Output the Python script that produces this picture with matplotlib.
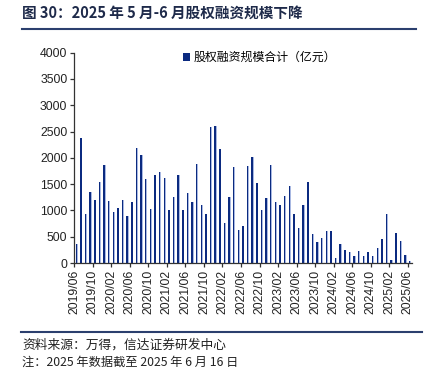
import matplotlib
matplotlib.use("Agg")
import matplotlib.pyplot as plt
import pandas as pd

plt.rcParams['font.family'] = ['Noto Sans CJK SC', 'DejaVu Sans']

months = [d.strftime('%Y/%m') for d in pd.date_range('2019-06-01', '2025-06-01', freq='MS')]
values = [356, 2375, 933, 1346, 1194, 1549, 1873, 1187, 965, 1048,
          1206, 889, 1156, 2184, 2057, 1600, 1022, 1670, 1740, 1613,
          1003, 1257, 1670, 1003, 1327, 1168, 1880, 1111, 927, 2584,
          2597, 2172, 762, 1257, 1835, 635, 699, 1841, 2007, 1524,
          1010, 1232, 1861, 1168, 1111, 1270, 1467, 927, 660, 1105,
          1537, 546, 400, 476, 616, 616, 102, 356, 254, 203,
          133, 229, 127, 203, 133, 279, 451, 927, 51, 572,
          419, 159, 44]
yticks = [0, 500, 1000, 1500, 2000, 2500, 3000, 3500, 4000]
legend_label = '股权融资规模合计（亿元）'
title = '图 30：2025 年 5 月-6 月股权融资规模下降'
source = '资料来源：万得，信达证券研发中心'
note = '注：2025 年数据截至 2025 年 6 月 16 日'

fig = plt.figure(figsize=(4.3, 3.7), dpi=100)
ax = fig.add_axes([74.3/430, 1-263/370, (412.3-74.3)/430, (263-52.7)/370])

x = list(range(len(values)))
dark = '#0B2A80'
light = '#A8B8E2'
ax.bar([i - 0.07 for i in x], values, width=0.32, color=dark, linewidth=0, label=legend_label)
ax.bar([i + 0.17 for i in x], values, width=0.16, color=light, linewidth=0)

ax.set_xlim(-0.5, len(values) - 0.5)
ax.set_ylim(0, 4000)
ax.set_yticks(yticks)
ax.set_yticklabels([str(v) for v in yticks], fontfamily='Liberation Sans', fontsize=8.8, color='#222222')
tick_idx = list(range(0, len(values), 4))
ax.set_xticks([i - 0.5 for i in tick_idx])
ax.set_xticklabels([months[i] for i in tick_idx], rotation=90, fontfamily='Liberation Sans',
                   fontsize=8.8, color='#222222')
ax.tick_params(axis='both', direction='out', length=3, width=0.9, color='#333333', pad=2)
for s in ['top', 'right']:
    ax.spines[s].set_visible(False)
for s in ['left', 'bottom']:
    ax.spines[s].set_color('#333333')
    ax.spines[s].set_linewidth(0.9)

h, l = ax.get_legend_handles_labels()
leg = ax.legend(h[:1], l[:1], loc='upper left', bbox_to_anchor=((178-74.3)/338, 1.03),
                frameon=False, fontsize=8.6, handlelength=0.6, handleheight=0.6,
                handletextpad=0.3, borderaxespad=0)

fig.text(22/430, 1-13/370, title, fontsize=10.5, fontweight='bold', color='#1E2A4A',
         va='center', ha='left')
fig.add_artist(plt.Line2D([22/430, 416/430], [1-28.5/370, 1-28.5/370], color='#2B3F6E', linewidth=1.5))
fig.add_artist(plt.Line2D([21/430, 422/430], [1-331.7/370, 1-331.7/370], color='#2B3F6E', linewidth=1.5))
fig.text(22/430, 1-345/370, source, fontsize=9.2, color='#222222', va='center', ha='left', style='italic')
fig.text(22/430, 1-362/370, note, fontsize=8.8, color='#222222', va='center', ha='left', style='italic')

fig.savefig('out.png', dpi=100)
